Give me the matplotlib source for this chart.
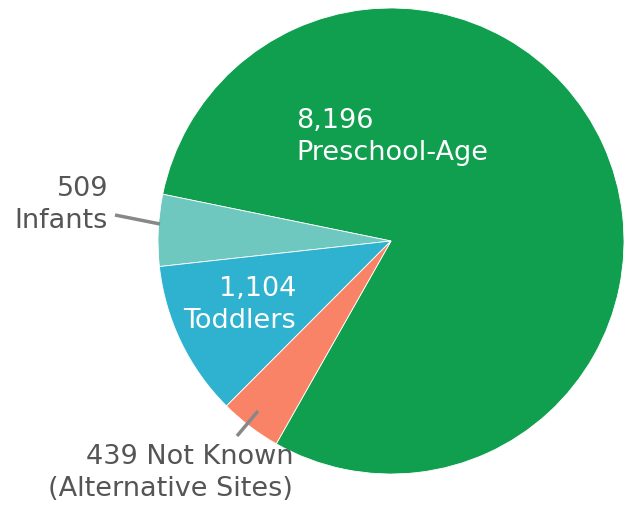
import matplotlib.pyplot as plt

# slice data, counterclockwise from the Preschool-Age wedge
labels = ['Preschool-Age', 'Infants', 'Toddlers', 'Not Known\n(Alternative Sites)']
values = [8196, 509, 1104, 439]
colors = ['#0f9f4f', '#6fc8c0', '#2fb2cf', '#f98367']

W, H = 627, 505
fig = plt.figure(figsize=(W / 100, H / 100), dpi=100)
ax = fig.add_axes([0, 0, 1, 1])

cx, cy, r = 391, H - 241, 233
ax.pie(values, colors=colors, startangle=240.5, counterclock=True,
       center=(cx, cy), radius=r, frame=True,
       wedgeprops=dict(linewidth=0.6, edgecolor='white'))
ax.set_xlim(0, W)
ax.set_ylim(0, H)
ax.set_aspect('equal')
ax.axis('off')

fs = 19.5
grey = '#555555'
# labels (pixel positions from top-left)
ax.text(296, H - 137, '8,196\nPreschool-Age', color='white', fontsize=fs,
        ha='left', va='center', linespacing=1.28)
ax.text(296, H - 305, '1,104\nToddlers', color='white', fontsize=fs,
        ha='right', va='center', linespacing=1.28, multialignment='right')
ax.text(108, H - 205, '509\nInfants', color=grey, fontsize=fs,
        ha='right', va='center', linespacing=1.28, multialignment='right')
ax.text(293, H - 473, '439 Not Known\n(Alternative Sites)', color=grey, fontsize=fs,
        ha='right', va='center', linespacing=1.28, multialignment='right')

# leader lines
ax.plot([115, 160], [H - 215, H - 224], color='#888888', lw=2.5, solid_capstyle='butt')
ax.plot([237, 258], [H - 436, H - 411], color='#888888', lw=2.5, solid_capstyle='butt')

fig.savefig('out.png', dpi=100)
